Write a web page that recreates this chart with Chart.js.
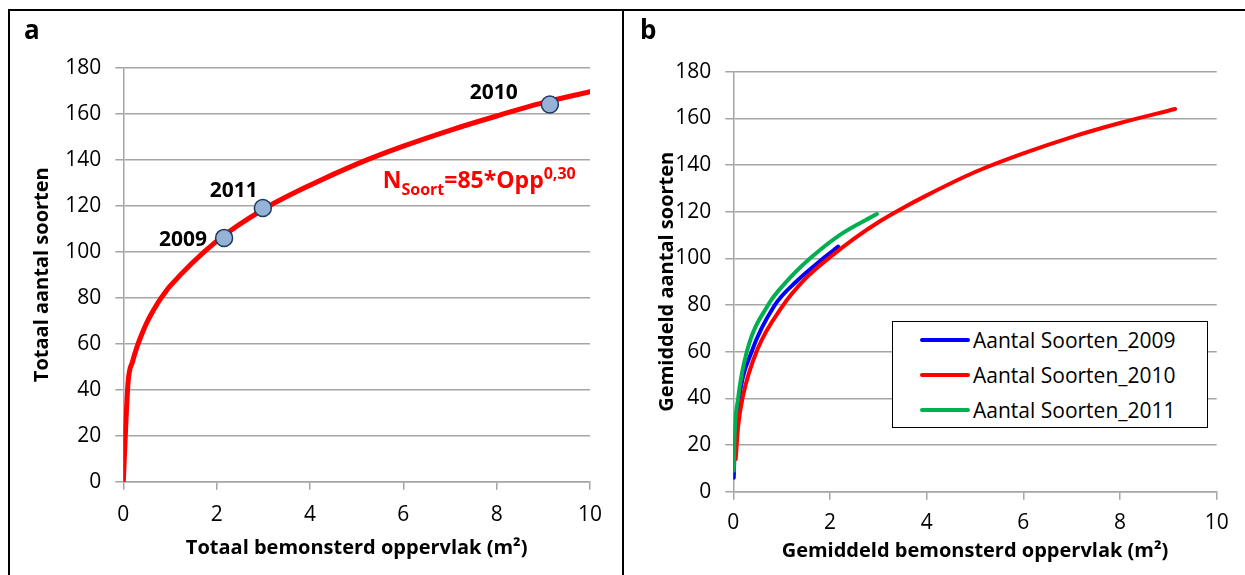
<!DOCTYPE html>
<html>
<head>
<meta charset="utf-8">
<script src="https://cdn.jsdelivr.net/npm/chart.js@4.4.0/dist/chart.umd.min.js"></script>
<style>
  body { margin: 0; background: #fff; font-family: "Open Sans", sans-serif; }
  #page { position: relative; width: 1245px; height: 575px; overflow: hidden; background: #fff; }
  .panel { position: absolute; top: 0; height: 575px; }
  #panelA { left: 0; width: 623px; }
  #panelB { left: 624px; width: 621px; }
  .lijn { position: absolute; background: #000; }
  .letter { position: absolute; font-weight: 700; font-size: 26px; line-height: 1; }
  #legenda { position: absolute; left: 892px; top: 321px; width: 314px; height: 105px;
             border: 1px solid #000; background: #fff; }
  .rij { display: flex; align-items: center; height: 35px; font-size: 21px; color: #000; }
  .streep { width: 50px; height: 4px; border-radius: 2px; margin-left: 27px; margin-right: 3px; }
</style>
</head>
<body>
<div id="page">
  <div class="panel" id="panelA"><canvas id="grafiekA"></canvas></div>
  <div class="panel" id="panelB"><canvas id="grafiekB"></canvas></div>
  <div class="lijn" style="left:8px; top:9px; width:1237px; height:2px;"></div>
  <div class="lijn" style="left:8px; top:9px; width:2px; height:566px;"></div>
  <div class="lijn" style="left:622px; top:9px; width:2px; height:566px;"></div>
  <div class="letter" style="left:24px; top:16px;">a</div>
  <div class="letter" style="left:640px; top:16px;">b</div>
  <div id="legenda"></div>
</div>
<script>
// paneel a: totaal aantal soorten tegen totaal bemonsterd oppervlak
const oppTotaal = [0, 0.1, 0.2, 0.3, 0.4, 0.5, 0.6, 0.7, 0.8, 0.9, 1, 2, 3, 4, 5, 6, 7, 8, 9, 10];
const soortenTotaal = [0, 42.6, 52.3, 59.0, 64.3, 69.0, 72.9, 76.4, 79.6, 82.4, 85, 104.6, 118.4, 128.9, 138.1, 145.9, 152.8, 159.0, 164.8, 169.6];

const jaren = ['2009', '2010', '2011'];
const jaarOpp = [2.16, 9.14, 2.99];
const jaarSoorten = [106, 164, 119];

// paneel b: gemiddeld aantal soorten per jaar
const opp2009 = [0.01, 0.03, 0.12, 0.38, 0.86, 1.3, 1.86, 2.17];
const soorten2009 = [6, 20, 40, 60, 80, 90, 100, 105];
const opp2010 = [0.05, 0.1, 0.2, 0.5, 1.0, 1.5, 2.0, 2.5, 3.0, 3.5, 4, 5, 6, 7, 8, 9.14];
const soorten2010 = [14, 28, 41, 61, 79, 91.5, 100.5, 108.5, 115.5, 121.5, 127, 137, 145, 152, 158, 164];
const opp2011 = [0.01, 0.02, 0.10, 0.28, 0.72, 1.1, 1.59, 2.2, 2.97];
const soorten2011 = [9, 20, 40, 60, 80, 90, 100, 110, 119];

const xTicks = [0, 2, 4, 6, 8, 10];
const yTicks = [0, 20, 40, 60, 80, 100, 120, 140, 160, 180];

const punten = (xs, ys) => xs.map((x, i) => ({ x: x, y: ys[i] }));

const grijs = '#a5a5a5';
const tickFont = { family: 'Open Sans', size: 21 };
const titelFont = { family: 'Open Sans', size: 20, weight: 'bold' };

function assen(xTitel, yTitel, yBreedte, xHoogte, yTitelPad, xTitelPad, xTickPad) {
  return {
    x: {
      type: 'linear', min: 0, max: 10,
      afterBuildTicks: s => { s.ticks = xTicks.map(v => ({ value: v })); },
      afterFit: s => { s.height = xHoogte; },
      grid: { drawOnChartArea: false, color: grijs, lineWidth: 1.5, tickLength: 8 },
      border: { color: grijs, width: 1.5 },
      ticks: { color: '#000', font: tickFont, padding: xTickPad, maxRotation: 0 },
      title: { display: true, text: xTitel, color: '#000', font: titelFont, padding: { top: 0, bottom: xTitelPad } }
    },
    y: {
      type: 'linear', min: 0, max: 180,
      afterBuildTicks: s => { s.ticks = yTicks.map(v => ({ value: v })); },
      afterFit: s => { s.width = yBreedte; },
      grid: { color: grijs, lineWidth: 1.5, tickLength: 8 },
      border: { color: grijs, width: 1.5 },
      ticks: { color: '#000', font: tickFont, padding: 14 },
      title: { display: true, text: yTitel, color: '#000', font: titelFont, padding: { top: yTitelPad, bottom: 0 } }
    }
  };
}

// jaartallen bij de punten en de formule van de curve
const labelPlaats = { '2009': [-17, 2, 'right'], '2010': [-56, -11, 'center'], '2011': [-29, -17, 'center'] };
const annotaties = {
  id: 'annotaties',
  afterDatasetsDraw(chart) {
    const ctx = chart.ctx;
    ctx.save();
    ctx.fillStyle = '#000';
    ctx.font = 'bold 21px "Open Sans"';
    ctx.textBaseline = 'middle';
    chart.getDatasetMeta(1).data.forEach((pt, i) => {
      const [dx, dy, align] = labelPlaats[jaren[i]];
      ctx.textAlign = align;
      ctx.fillText(jaren[i], pt.x + dx, pt.y + dy);
    });

    let x = chart.scales.x.getPixelForValue(5.56);
    const y = chart.scales.y.getPixelForValue(127.7);
    ctx.fillStyle = '#ff0000';
    ctx.textAlign = 'left';
    ctx.textBaseline = 'alphabetic';
    const delen = [['N', 23, 0], ['Soort', 16, 7], ['=85*Opp', 23, 0], ['0,30', 16, -9]];
    delen.forEach(([tekst, grootte, dy]) => {
      ctx.font = 'bold ' + grootte + 'px "Open Sans"';
      ctx.fillText(tekst, x, y + dy);
      x += ctx.measureText(tekst).width;
    });
    ctx.restore();
  }
};

new Chart(document.getElementById('grafiekA'), {
  type: 'scatter',
  data: {
    datasets: [
      {
        label: 'Totaal',
        data: punten(oppTotaal, soortenTotaal),
        showLine: true,
        borderColor: '#ff0000',
        borderWidth: 5,
        borderCapStyle: 'round',
        borderJoinStyle: 'round',
        cubicInterpolationMode: 'monotone',
        pointRadius: 0,
        order: 2
      },
      {
        label: 'Jaren',
        data: punten(jaarOpp, jaarSoorten),
        pointRadius: 8.5,
        pointBackgroundColor: '#95b3d7',
        pointBorderColor: '#1f3a5f',
        pointBorderWidth: 1.5,
        order: 1
      }
    ]
  },
  options: {
    responsive: true,
    maintainAspectRatio: false,
    animation: false,
    layout: { padding: { top: 67.7, right: 33, left: 0, bottom: 0 } },
    plugins: { legend: { display: false }, tooltip: { enabled: false } },
    scales: assen('Totaal bemonsterd oppervlak (m²)', 'Totaal aantal soorten', 123.3, 93.3, 30.5, 15, 12.4)
  },
  plugins: [annotaties]
});

const lijnStijl = kleur => ({
  showLine: true, borderColor: kleur, backgroundColor: kleur, borderWidth: 4,
  borderCapStyle: 'round', borderJoinStyle: 'round', cubicInterpolationMode: 'monotone', pointRadius: 0
});

const grafiekB = new Chart(document.getElementById('grafiekB'), {
  type: 'scatter',
  data: {
    datasets: [
      Object.assign({ label: 'Aantal Soorten_2009', data: punten(opp2009, soorten2009), order: 3 }, lijnStijl('#0000ff')),
      Object.assign({ label: 'Aantal Soorten_2010', data: punten(opp2010, soorten2010), order: 2 }, lijnStijl('#ff0000')),
      Object.assign({ label: 'Aantal Soorten_2011', data: punten(opp2011, soorten2011), order: 1 }, lijnStijl('#00b050'))
    ]
  },
  options: {
    responsive: true,
    maintainAspectRatio: false,
    animation: false,
    layout: { padding: { top: 71.7, right: 28.3, left: 0, bottom: 0 } },
    plugins: { legend: { display: false }, tooltip: { enabled: false } },
    scales: assen('Gemiddeld bemonsterd oppervlak (m²)', 'Gemiddeld aantal soorten', 109.3, 83.3, 31.7, 12, 10.4)
  }
});

// legenda met de kleuren van de datasets
const legenda = document.getElementById('legenda');
grafiekB.data.datasets.forEach(ds => {
  const rij = document.createElement('div');
  rij.className = 'rij';
  const streep = document.createElement('div');
  streep.className = 'streep';
  streep.style.background = ds.borderColor;
  const tekst = document.createElement('span');
  tekst.textContent = ds.label;
  rij.appendChild(streep);
  rij.appendChild(tekst);
  legenda.appendChild(rij);
});
</script>
</body>
</html>
